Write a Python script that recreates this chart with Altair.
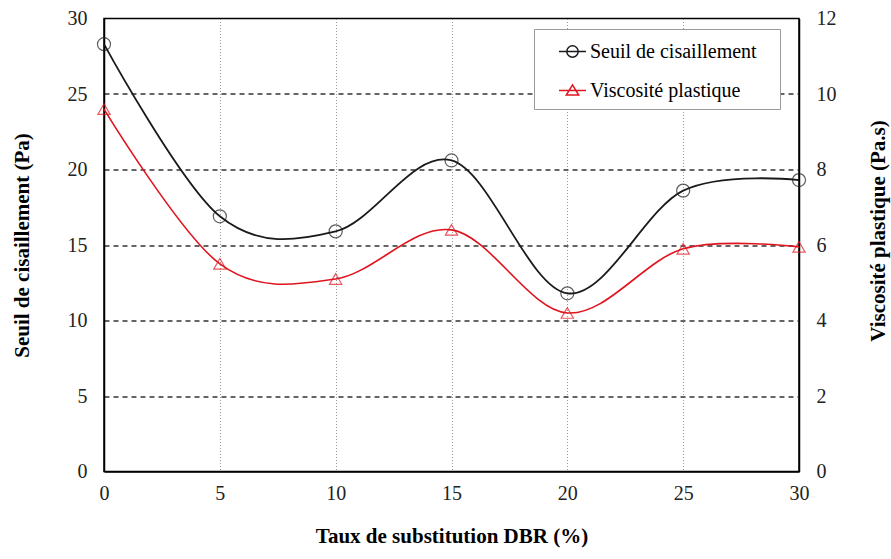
import altair as alt
import pandas as pd

# ---- data ----
taux = [0, 5, 10, 15, 20, 25, 30]
seuil = [28.3, 16.9, 15.9, 20.6, 11.8, 18.6, 19.3]          # Pa (left axis)
viscosite = [9.6, 5.5, 5.1, 6.4, 4.2, 5.9, 5.95]            # Pa.s (right axis)
series = ["Seuil de cisaillement", "Viscosité plastique"]
x_ticks = [0, 5, 10, 15, 20, 25, 30]
left_ticks = [0, 5, 10, 15, 20, 25, 30]
right_ticks = [0, 2, 4, 6, 8, 10, 12]

df = pd.DataFrame({"taux": taux, "seuil": seuil, "visc": viscosite})
leg_df = pd.DataFrame({"serie": series})

FONT = "Liberation Serif"
BLACK = "#1a1a1a"
RED = "#e0141e"

edge_hide = {"condition": {"test": "datum.value == 0 || datum.value == 30", "value": 0}, "value": 1}

x_enc = alt.X(
    "taux:Q",
    scale=alt.Scale(domain=[0, 30], nice=False),
    axis=alt.Axis(
        values=x_ticks, title="Taux de substitution DBR (%)", grid=True,
        gridDash=[1, 2], gridColor="#9a9a9a", gridWidth=1, gridOpacity=edge_hide,
        ticks=False, labelPadding=12, titleY=54, labelFlush=False,
    ),
)

y_left = alt.Y(
    "seuil:Q",
    scale=alt.Scale(domain=[0, 30], nice=False),
    axis=alt.Axis(
        orient="left", values=left_ticks, title="Seuil de cisaillement (Pa)",
        grid=True, gridDash=[5, 4], gridColor="#333333", gridWidth=1.3,
        gridOpacity=edge_hide, ticks=False, labelPadding=17, titleX=-72,
        labelFlush=False,
    ),
)

y_right = alt.Y(
    "visc:Q",
    scale=alt.Scale(domain=[0, 12], nice=False),
    axis=alt.Axis(
        orient="right", values=right_ticks, title="Viscosité plastique (Pa.s)",
        grid=False, ticks=False, labelPadding=17, titleAngle=270,
        titleBaseline="top", titleX=68, titleY=212, labelFlush=False,
    ),
)

base = alt.Chart(df)

black = alt.layer(
    base.mark_line(interpolate="cardinal", color=BLACK, strokeWidth=1.8).encode(x=x_enc, y=y_left),
    base.mark_point(shape="circle", filled=False, size=170, color=BLACK, strokeWidth=1.2).encode(x=x_enc, y=y_left),
)

red = alt.layer(
    base.mark_line(interpolate="cardinal", color=RED, strokeWidth=1.6).encode(x=x_enc, y=y_right),
    base.mark_point(shape="triangle-up", filled=False, size=150, color=RED, strokeWidth=1.2).encode(x=x_enc, y=y_right),
)

path_circle = "M-1,0L1,0M0.42,0A0.42,0.42,0,1,1,-0.42,0A0.42,0.42,0,1,1,0.42,0"
path_tri = "M-1,0L1,0M0,-0.42L0.46,0.34L-0.46,0.34Z"

legend_props = dict(
    title=None, orient="none", legendX=430, legendY=10.5, padding=8,
    symbolOffset=16, symbolSize=729, symbolStrokeWidth=1.5, symbolOpacity=1,
    labelFont=FONT, labelFontSize=20, labelColor="black", labelOffset=3,
    labelExpr="datum.label + '\u2800'", labelLimit=400,
    rowPadding=14, strokeColor="#9a9a9a", fillColor="white",
)

leg = alt.Chart(leg_df).mark_point(opacity=0, filled=False).encode(
    color=alt.Color("serie:N", scale=alt.Scale(domain=series, range=[BLACK, RED]),
                    legend=alt.Legend(**legend_props)),
    shape=alt.Shape("serie:N", scale=alt.Scale(domain=series, range=[path_circle, path_tri]),
                    legend=alt.Legend(**legend_props)),
)

chart = alt.layer(black, red, leg).resolve_scale(y="independent").properties(
    width=695, height=453,
    autosize=alt.AutoSizeParams(type="none"),
    padding={"left": 104, "top": 18.5, "right": 92, "bottom": 87},
    background="white",
).configure_view(
    stroke="black", strokeWidth=1.5
).configure_axis(
    labelFont=FONT, labelFontSize=20, labelColor="#222222",
    titleFont=FONT, titleFontSize=21, titleFontWeight="bold", titleColor="black",
    domainColor="black", domainWidth=1.5,
)

chart.save("out.html", embed_options={"renderer": "svg", "actions": False})
